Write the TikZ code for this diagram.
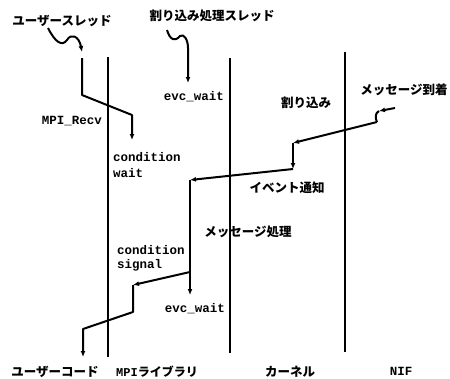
\documentclass[tikz,border=0pt]{standalone}
\usepackage{fontspec}
\setmonofont{Liberation Mono}
\newfontfamily\jp{Noto Sans CJK JP}
\usetikzlibrary{arrows.meta}
\tikzset{
  lane/.style={line width=2pt},
  flow/.style={line width=2pt, line join=round, -{Latex[length=6pt,width=5pt]}},
  plain/.style={line width=2pt, line join=round},
  jlab/.style={font=\jp\bfseries\fontsize{12.5}{12.5}\selectfont, inner sep=0pt},
  tlab/.style={font=\ttfamily\bfseries\fontsize{12.5}{13}\selectfont, inner sep=0pt},
}
\begin{document}
\begin{tikzpicture}[x=1pt,y=-1pt]
\useasboundingbox (0,0) rectangle (450,378);
% lanes
\coordinate (m0) at (108,57);  \coordinate (m1) at (108,357);
\coordinate (k0) at (230,58);  \coordinate (k1) at (230,353);
\coordinate (n0) at (345,52);  \coordinate (n1) at (345,352);
\draw[lane] (m0) -- (m1);
\draw[lane] (k0) -- (k1);
\draw[lane] (n0) -- (n1);
% labels
\node[jlab] (ut) at (62,21) {ユーザースレッド};
\node[jlab] (it) at (212,16) {割り込み処理スレッド};
\node[tlab] (ew1) at (194,97) {evc\_wait};
\node[tlab] (recv) at (72,121) {MPI\_Recv};
\node[tlab, anchor=west] (cw1) at (113,157) {condition};
\node[tlab, anchor=west] (cw2) at (113,173) {wait};
\node[jlab] (arr) at (404,90) {メッセージ到着};
\node[jlab] (intr) at (306,103) {割り込み};
\node[jlab] (ev) at (287,188) {イベント通知};
\node[jlab] (mp) at (248,232) {メッセージ処理};
\node[tlab, anchor=west] (cs1) at (117,250) {condition};
\node[tlab, anchor=west] (cs2) at (117,265) {signal};
\node[tlab] (ew2) at (195,309) {evc\_wait};
\node[jlab] (uc) at (55,372) {ユーザーコード};
\node[inner sep=0pt] (ml) at (157,372) {\jp\bfseries\fontsize{12}{12}\selectfont{\ttfamily MPI}ライブラリ};
\node[jlab] (kn) at (290,372) {カーネル};
\node[tlab] (nif) at (401,371) {NIF};
% user thread
\coordinate (w0) at (48,28); \coordinate (w1) at (82,52);
\draw[flow] (w0) .. controls (55,42) and (62,47) .. (67,40) .. controls (71,33) and (79,36) .. (w1);
\coordinate (u0) at (82,58); \coordinate (u1) at (82,95);
\coordinate (u2) at (132,115); \coordinate (u3) at (132,140);
\draw[flow] (u0) -- (u1) -- (u2) -- (u3);
% interrupt thread
\coordinate (v0) at (167,30); \coordinate (v1) at (188,48); \coordinate (v2) at (188,83);
\draw[flow] (v0) .. controls (170,40) and (175,42) .. (180,36) .. controls (184,33) and (188,40) .. (v1) -- (v2);
% message arrival and processing
\coordinate (a0) at (395,108); \coordinate (a1) at (379,111);
\coordinate (a2) at (377,122); \coordinate (a3) at (293,143);
\coordinate (a4) at (293,169); \coordinate (a5) at (190,180);
\coordinate (a6) at (190,295); \coordinate (b0) at (190,272);
\coordinate (b1) at (133,285); \coordinate (b2) at (133,312);
\coordinate (b3) at (83,329); \coordinate (b4) at (83,357);
\draw[flow] (a0) -- (a1);
\draw[plain] (a1) .. controls (375,113) and (375,118) .. (a2);
\draw[flow] (a2) -- (a3);
\draw[flow] (a3) -- (a4);
\draw[flow] (a4) -- (a5);
\draw[flow] (a5) -- (a6);
\draw[flow] (b0) -- (b1);
\draw[flow] (b1) -- (b2) -- (b3) -- (b4);
\end{tikzpicture}
\end{document}
